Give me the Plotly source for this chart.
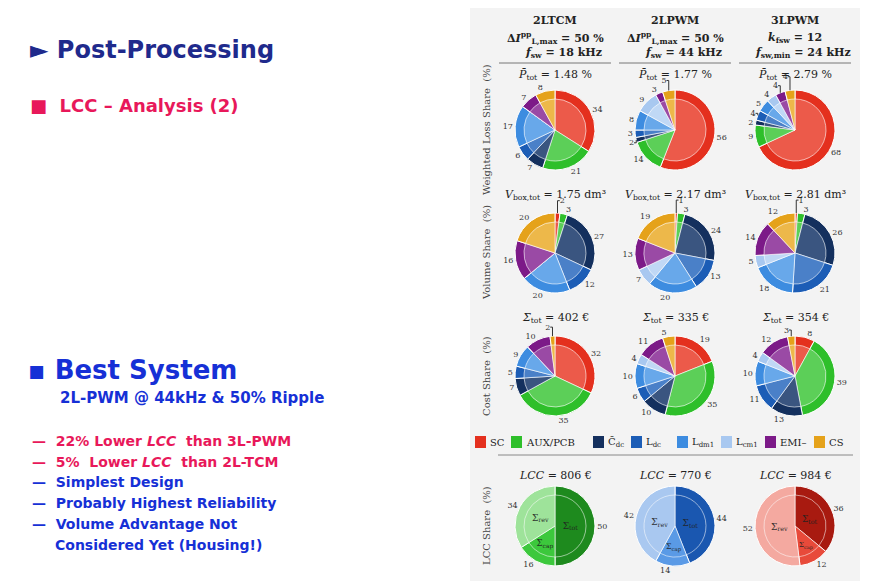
import plotly.graph_objects as go

W, H = 873, 581
cats = ["SC", "AUX/PCB", "Cdc", "Ldc", "Ldm1", "Lcm1", "EMI", "CS"]
legend_txt = ["SC", "AUX/PCB", "C̄<sub>dc</sub>", "L<sub>dc</sub>", "L<sub>dm1</sub>", "L<sub>cm1</sub>", "EMI–", "CS"]
colors = ["#e4301e", "#2ebf2a", "#14305e", "#1c5db6", "#3d8ce0", "#a8c8f0", "#7c1a88", "#e5a21a"]
inner_colors = ["#ec5a4a", "#5ccf58", "#3a5580", "#4a80c8", "#68a8ea", "#c0d8f5", "#9a4aa5", "#edb84a"]
systems = ["2LTCM", "2LPWM", "3LPWM"]

loss = {"2LTCM": [34, 21, 7, 6, 17, 0, 7, 8],
        "2LPWM": [56, 14, 2, 3, 8, 9, 3, 5],
        "3LPWM": [68, 9, 2, 4, 5, 4, 4, 4]}
volume = {"2LTCM": [2, 3, 27, 12, 20, 0, 16, 20],
          "2LPWM": [1, 3, 24, 13, 20, 7, 13, 19],
          "3LPWM": [1, 3, 26, 21, 18, 5, 14, 12]}
cost = {"2LTCM": [32, 35, 7, 5, 9, 0, 10, 2],
        "2LPWM": [19, 35, 10, 6, 10, 4, 11, 5],
        "3LPWM": [8, 39, 13, 11, 10, 4, 12, 3]}
lcc_cats = ["tot", "cap", "rev"]
lcc = {"2LTCM": [50, 16, 34], "2LPWM": [44, 14, 42], "3LPWM": [36, 12, 52]}
lcc_colors = {"2LTCM": ["#1e8a1e", "#3cc83c", "#9ee39a"],
              "2LPWM": ["#1a57b0", "#5a9ae6", "#a9c8f0"],
              "3LPWM": ["#a81a10", "#e84a3a", "#f4a9a0"]}
ploss = ["1.48", "1.77", "2.79"]
vbox = ["1.75", "2.17", "2.81"]
ctot = ["402", "335", "354"]
lcctot = ["806", "770", "984"]

col_x = [547, 667, 787]
row_y = [122, 245, 368]
R = 40
RI = 31

fig = go.Figure()

def dom(cx, cy, r):
    return dict(x=[(cx - r) / W, (cx + r) / W], y=[1 - (cy + r) / H, 1 - (cy - r) / H])

for ri, data in enumerate([loss, volume, cost]):
    for ci, s in enumerate(systems):
        vals = data[s]
        txt = [str(v) if v > 0 else "" for v in vals]
        fig.add_trace(go.Pie(labels=cats, values=vals, sort=False, direction="clockwise", rotation=0,
                             marker=dict(colors=colors, line=dict(color="white", width=1)),
                             text=txt, texttemplate="%{text}", textposition="outside",
                             textfont=dict(size=8, color="#333", family="DejaVu Serif"),
                             domain=dom(col_x[ci], row_y[ri], R), showlegend=False,
                             hoverinfo="label+value"))
        fig.add_trace(go.Pie(labels=cats, values=vals, sort=False, direction="clockwise", rotation=0,
                             marker=dict(colors=inner_colors, line=dict(color="rgba(255,255,255,0.6)", width=1)),
                             textinfo="none", domain=dom(col_x[ci], row_y[ri], RI), showlegend=False,
                             hoverinfo="skip"))

lcc_y = 518
for ci, s in enumerate(systems):
    fig.add_trace(go.Pie(labels=lcc_cats, values=lcc[s], sort=False, direction="clockwise", rotation=0,
                         marker=dict(colors=lcc_colors[s], line=dict(color="white", width=1)),
                         text=[str(v) for v in lcc[s]], texttemplate="%{text}", textposition="outside",
                         textfont=dict(size=8, color="#333", family="DejaVu Serif"),
                         domain=dom(col_x[ci], lcc_y, R), showlegend=False))
    fig.add_trace(go.Pie(labels=lcc_cats, values=lcc[s], sort=False, direction="clockwise", rotation=0,
                         marker=dict(colors=lcc_colors[s], line=dict(color="rgba(255,255,255,0.6)", width=1)),
                         text=["Σ<sub>tot</sub>", "Σ<sub>cap</sub>", "Σ<sub>rev</sub>"], texttemplate="%{text}",
                         textposition="inside", insidetextorientation="horizontal",
                         textfont=dict(size=9, color="#222", family="DejaVu Serif"),
                         opacity=0.9, domain=dom(col_x[ci], lcc_y, RI), showlegend=False))

shapes = [dict(type="rect", xref="paper", yref="paper", x0=462 / W, x1=852 / W, y0=0, y1=1,
               fillcolor="#f3f3f3", line=dict(width=0), layer="below")]
ann = []
def A(x, y, t, size=11, color="#222", fam="DejaVu Serif", anchor="center", angle=0):
    ann.append(dict(x=x / W, y=1 - y / H, xref="paper", yref="paper", text=t, showarrow=False,
                    font=dict(size=size, color=color, family=fam), xanchor=anchor, yanchor="middle", textangle=angle))

heads = [["<b>2LTCM</b>", "<b>Δ<i>I</i><sup>pp</sup><sub>L,max</sub> = 50 %</b>", "<b><i>f</i><sub>sw</sub> = 18 kHz</b>"],
         ["<b>2LPWM</b>", "<b>Δ<i>I</i><sup>pp</sup><sub>L,max</sub> = 50 %</b>", "<b><i>f</i><sub>sw</sub> = 44 kHz</b>"],
         ["<b>3LPWM</b>", "<b><i>k</i><sub>fsw</sub> = 12</b>", "<b><i>f</i><sub>sw,min</sub> = 24 kHz</b>"]]
for ci in range(3):
    A(col_x[ci], 13, heads[ci][0], 11)
    A(col_x[ci], 30, heads[ci][1], 11)
    A(col_x[ci] + 8, 45, heads[ci][2], 11)
    shapes.append(dict(type="line", xref="paper", yref="paper", x0=(col_x[ci] - 56) / W, x1=(col_x[ci] + 56) / W,
                       y0=1 - 55 / H, y1=1 - 55 / H, line=dict(color="#777", width=1)))
    A(col_x[ci], 67, "<i>P̄</i><sub>tot</sub> = " + ploss[ci] + " %", 11)
    A(col_x[ci], 187, "<i>V</i><sub>box,tot</sub> = " + vbox[ci] + " dm³", 11)
    A(col_x[ci], 310, "<i>Σ</i><sub>tot</sub> = " + ctot[ci] + " €", 11)
    A(col_x[ci], 467, "<i>LCC</i> = " + lcctot[ci] + " €", 11)
shapes.append(dict(type="line", xref="paper", yref="paper", x0=490 / W, x1=845 / W,
                   y0=1 - 447 / H, y1=1 - 447 / H, line=dict(color="#888", width=1)))

A(478, 122, "Weighted Loss Share  (%)", 10, "#444", angle=-90)
A(478, 245, "Volume Share  (%)", 10, "#444", angle=-90)
A(478, 368, "Cost Share  (%)", 10, "#444", angle=-90)
A(478, 518, "LCC Share  (%)", 10, "#444", angle=-90)

lx = [480, 516, 598, 636, 682, 726, 770, 819]
for i in range(8):
    shapes.append(dict(type="rect", xref="paper", yref="paper", x0=(lx[i] - 13) / W, x1=(lx[i] - 2) / W,
                       y0=1 - 440 / H, y1=1 - 428 / H, fillcolor=colors[i], line=dict(width=0)))
    A(lx[i], 434, legend_txt[i], 10, "#222", anchor="left")

sans = "DejaVu Sans"
A(20, 42, "<b>► Post-Processing</b>", 24, "#1f2a8c", sans, "left")
A(20, 97, "<b>■  LCC – Analysis (2)</b>", 18, "#e8185a", sans, "left")
A(18, 362, "<b>▪ Best System</b>", 26, "#1630d6", sans, "left")
A(50, 390, "<b>2L-PWM @ 44kHz & 50% Ripple</b>", 15, "#1630d6", sans, "left")
A(22, 433, "<b>—  22% Lower <i>LCC</i>  than 3L-PWM</b>", 14, "#e8185a", sans, "left")
A(22, 454, "<b>—  5%  Lower <i>LCC</i>  than 2L-TCM</b>", 14, "#e8185a", sans, "left")
A(22, 474, "<b>—  Simplest Design</b>", 14, "#1630d6", sans, "left")
A(22, 495, "<b>—  Probably Highest Reliability</b>", 14, "#1630d6", sans, "left")
A(22, 516, "<b>—  Volume Advantage Not</b>", 14, "#1630d6", sans, "left")
A(45, 537, "<b>Considered Yet (Housing!)</b>", 14, "#1630d6", sans, "left")

fig.update_layout(width=W, height=H, margin=dict(l=0, r=0, t=0, b=0), paper_bgcolor="white",
                  shapes=shapes, annotations=ann, showlegend=False)
fig.write_html("out.html")
